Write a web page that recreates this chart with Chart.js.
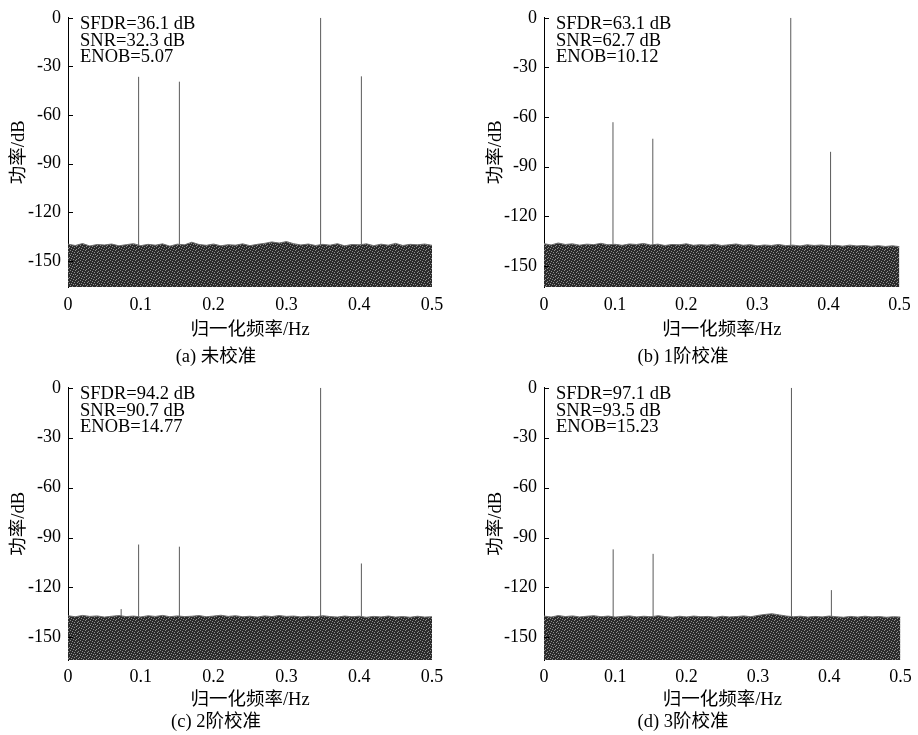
<!DOCTYPE html>
<html lang="zh-CN">
<head>
<meta charset="utf-8">
<title>校准前后输出频谱</title>
<script src="https://cdn.jsdelivr.net/npm/chart.js@4.4.1/dist/chart.umd.min.js"></script>
<style>
  html, body { margin: 0; padding: 0; background: #fff; }
  #wrap { position: relative; width: 918px; height: 735px; }
  #wrap canvas { position: absolute; }
</style>
</head>
<body>
<div id="wrap">
  <canvas id="chart-a" width="459" height="370" style="left:0;top:0"></canvas>
  <canvas id="chart-b" width="459" height="370" style="left:459px;top:0"></canvas>
  <canvas id="chart-c" width="459" height="365" style="left:0;top:370px"></canvas>
  <canvas id="chart-d" width="459" height="365" style="left:459px;top:370px"></canvas>
</div>
<script>
// 坐标刻度
const xTicks = [0, 0.1, 0.2, 0.3, 0.4, 0.5];
const yTicks = [0, -30, -60, -90, -120, -150];

// 噪底上沿 (频率 / dB)
const noiseFreq = [0, 0.01, 0.02, 0.03, 0.04, 0.05, 0.06, 0.07, 0.08, 0.09, 0.1,
  0.11, 0.12, 0.13, 0.14, 0.15, 0.16, 0.17, 0.18, 0.19, 0.2,
  0.21, 0.22, 0.23, 0.24, 0.25, 0.26, 0.27, 0.28, 0.29, 0.3,
  0.31, 0.32, 0.33, 0.34, 0.35, 0.36, 0.37, 0.38, 0.39, 0.4,
  0.41, 0.42, 0.43, 0.44, 0.45, 0.46, 0.47, 0.48, 0.49, 0.5];
const noiseA = [-139.6, -140.4, -139.2, -140.7, -139.8, -140.1, -139.5, -140.6, -139.9, -139.3, -140.5,
  -139.7, -140.2, -139.4, -140.8, -139.6, -140.0, -138.4, -139.8, -140.3, -139.5,
  -140.6, -139.9, -140.2, -139.4, -140.5, -139.7, -139.1, -138.2, -138.9, -138.0,
  -139.3, -140.1, -139.5, -140.4, -139.7, -140.2, -139.3, -140.6, -139.8, -140.0,
  -139.4, -140.5, -139.6, -140.2, -139.1, -140.4, -139.7, -140.0, -139.5, -140.3];
const noiseB = [-136.5, -137.3, -136.1, -137.0, -136.6, -137.4, -136.8, -137.1, -136.3, -137.2, -136.9,
  -137.5, -136.7, -137.0, -136.4, -137.3, -136.8, -137.6, -137.0, -137.2, -136.6,
  -137.5, -137.1, -137.4, -136.8, -137.6, -137.2, -136.7, -137.5, -137.1, -137.8,
  -137.3, -137.6, -137.0, -137.7, -137.4, -137.9, -137.2, -137.6, -137.3, -137.8,
  -137.5, -138.0, -137.4, -137.9, -137.6, -138.1, -137.7, -138.2, -137.8, -138.3];
const noiseC = [-137.0, -137.6, -136.8, -137.4, -137.1, -137.8, -137.3, -136.9, -137.5, -137.2, -137.7,
  -137.0, -137.4, -136.8, -137.6, -137.1, -137.5, -137.3, -136.9, -137.6, -137.2,
  -136.7, -137.4, -137.0, -137.6, -137.3, -137.8, -137.1, -137.5, -136.9, -137.4,
  -137.2, -137.7, -137.3, -137.6, -137.0, -137.5, -137.8, -137.2, -137.6, -137.3,
  -137.9, -137.4, -137.7, -137.2, -137.8, -137.5, -137.9, -137.3, -137.8, -137.6];
const noiseD = [-137.2, -137.8, -136.9, -137.5, -137.1, -137.7, -137.3, -137.0, -137.6, -137.2, -137.8,
  -137.4, -137.1, -137.7, -137.3, -137.6, -137.0, -137.5, -137.9, -137.3, -137.7,
  -137.2, -137.6, -137.4, -137.9, -137.3, -137.7, -137.5, -137.1, -137.6, -136.8,
  -136.2, -135.8, -136.5, -137.2, -137.6, -137.3, -137.8, -137.4, -137.7, -137.2,
  -137.6, -137.9, -137.4, -137.8, -137.3, -137.7, -137.5, -137.9, -137.6, -137.8];

// 谱线 (频率 / 峰值 dB)
const spikeFreq = [0.097, 0.153, 0.347, 0.403];
const spikeA = [-36.4, -39.4, 0, -36.1];
const spikeB = [-63.1, -73.1, 0, -81.0];
const spikeFreqC = [0.073, 0.097, 0.153, 0.347, 0.403];
const spikeC = [-133, -94.2, -95.5, 0, -105.6];
const spikeD = [-97.1, -99.8, 0, -121.6];

// 性能指标文字
const statsA = ["SFDR=36.1 dB", "SNR=32.3 dB", "ENOB=5.07"];
const statsB = ["SFDR=63.1 dB", "SNR=62.7 dB", "ENOB=10.12"];
const statsC = ["SFDR=94.2 dB", "SNR=90.7 dB", "ENOB=14.77"];
const statsD = ["SFDR=97.1 dB", "SNR=93.5 dB", "ENOB=15.23"];

const captions = ["(a) 未校准", "(b) 1阶校准", "(c) 2阶校准", "(d) 3阶校准"];

const FONT_FAMILY = '"Liberation Serif", "Noto Sans CJK SC", serif';
const tickFont = { family: FONT_FAMILY, size: 18, lineHeight: 1.2 };
const titleFont = { family: FONT_FAMILY, size: 18.5, lineHeight: 1.2, weight: "normal" };

// 噪底填充纹理
function makeNoisePattern() {
  const tile = [
    "1000010000",
    "0010000010",
    "0000100100",
    "0100000001",
    "0001010000",
    "1000000100",
    "0010001000",
    "0000100001",
    "0100000010",
    "0001001000",
  ];
  const c = document.createElement("canvas");
  c.width = 10;
  c.height = 10;
  const g = c.getContext("2d");
  g.fillStyle = "#2b2b2b";
  g.fillRect(0, 0, 10, 10);
  g.fillStyle = "#8e8e8e";
  tile.forEach((row, y) => {
    [...row].forEach((ch, x) => {
      if (ch === "1") g.fillRect(x, y, 1, 1);
    });
  });
  return g.createPattern(c, "repeat");
}

// 谱线: 每条竖线两点, 中间断开
function spikePoints(freqs, peaks) {
  const pts = [];
  freqs.forEach((f, i) => {
    pts.push({ x: f, y: -142 }, { x: f, y: peaks[i] }, { x: f, y: null });
  });
  return pts;
}

// 左轴向内刻度 + 指标文字
const panelDecor = {
  id: "panelDecor",
  afterDatasetsDraw(chart, args, opts) {
    const { ctx, chartArea, scales } = chart;
    ctx.save();
    ctx.strokeStyle = "#000";
    ctx.lineWidth = 1;
    yTicks.forEach((v) => {
      const y = Math.round(scales.y.getPixelForValue(v)) + 0.5;
      ctx.beginPath();
      ctx.moveTo(chartArea.left, y);
      ctx.lineTo(chartArea.left + 5, y);
      ctx.stroke();
    });
    ctx.fillStyle = "#000";
    ctx.font = '18.5px "Liberation Serif"';
    ctx.textBaseline = "alphabetic";
    opts.lines.forEach((t, i) => {
      ctx.fillText(t, chartArea.left + 12, chartArea.top + 11.5 + i * 16.5);
    });
    ctx.restore();
  },
};

function renderPanel(p) {
  const ctx = document.getElementById(p.id);
  if (!ctx) return;

  return new Chart(ctx, {
    type: "line",
    data: {
      datasets: [
        {
          data: spikePoints(p.spikeFreq, p.spikes),
          borderColor: "#5a5a5a",
          borderWidth: 1,
          pointRadius: 0,
          spanGaps: false,
          fill: false,
          order: 2,
        },
        {
          data: noiseFreq.map((f, i) => ({ x: f, y: p.noise[i] })),
          borderColor: "#6e6e6e",
          borderWidth: 1,
          backgroundColor: makeNoisePattern(),
          pointRadius: 0,
          tension: 0,
          fill: "start",
          order: 1,
        },
      ],
    },
    options: {
      responsive: false,
      animation: false,
      events: [],
      layout: {
        padding: { left: 0, top: p.top, right: p.right, bottom: p.bottom },
      },
      plugins: {
        legend: { display: false },
        tooltip: { enabled: false },
        title: {
          display: true,
          position: "bottom",
          text: p.caption,
          color: "#000",
          font: titleFont,
          padding: { top: p.capPad, bottom: 0 },
        },
        panelDecor: { lines: p.stats },
      },
      scales: {
        x: {
          type: "linear",
          min: 0,
          max: 0.5,
          grid: { display: false, drawTicks: false },
          border: { display: false },
          afterBuildTicks: (s) => {
            s.ticks = xTicks.map((v) => ({ value: v }));
          },
          afterFit: (s) => {
            s.height = p.xHeight;
          },
          ticks: {
            autoSkip: false,
            maxRotation: 0,
            padding: p.xTickPad,
            color: "#000",
            font: tickFont,
            callback: (v) => String(v),
          },
          title: {
            display: true,
            text: "归一化频率/Hz",
            color: "#000",
            font: titleFont,
            padding: 0,
          },
        },
        y: {
          min: p.yMin,
          max: 0,
          grid: { display: false, drawTicks: false },
          border: { display: true, color: "#000", width: 1 },
          afterBuildTicks: (s) => {
            s.ticks = yTicks.map((v) => ({ value: v }));
          },
          afterFit: (s) => {
            s.width = p.yWidth;
          },
          ticks: {
            padding: 7,
            color: "#000",
            font: tickFont,
            callback: (v) => String(v),
          },
          title: {
            display: true,
            text: "功率/dB",
            color: "#000",
            font: titleFont,
            padding: { top: p.yTitlePad, bottom: 0 },
          },
        },
      },
    },
    plugins: [panelDecor],
  });
}

renderPanel({
  id: "chart-a", noise: noiseA, spikeFreq: spikeFreq, spikes: spikeA, stats: statsA, caption: captions[0],
  yMin: -166, top: 14, right: 27, bottom: 1.9, yWidth: 68, yTitlePad: 8.5, xTickPad: 7.2, xHeight: 54.1, capPad: 4.8,
});
renderPanel({
  id: "chart-b", noise: noiseB, spikeFreq: spikeFreq, spikes: spikeB, stats: statsB, caption: captions[1],
  yMin: -162.7, top: 14, right: 11, bottom: 1.9, yWidth: 85, yTitlePad: 26.5, xTickPad: 7.2, xHeight: 54.1, capPad: 4.8,
});
renderPanel({
  id: "chart-c", noise: noiseC, spikeFreq: spikeFreqC, spikes: spikeC, stats: statsC, caption: captions[2],
  yMin: -163.6, top: 17, right: 27, bottom: 1.4, yWidth: 68, yTitlePad: 8.5, xTickPad: 6.2, xHeight: 51.4, capPad: 0,
});
renderPanel({
  id: "chart-d", noise: noiseD, spikeFreq: spikeFreq, spikes: spikeD, stats: statsD, caption: captions[3],
  yMin: -163.6, top: 17, right: 11, bottom: 1.4, yWidth: 85, yTitlePad: 26.5, xTickPad: 6.2, xHeight: 51.4, capPad: 0,
});
</script>
</body>
</html>
